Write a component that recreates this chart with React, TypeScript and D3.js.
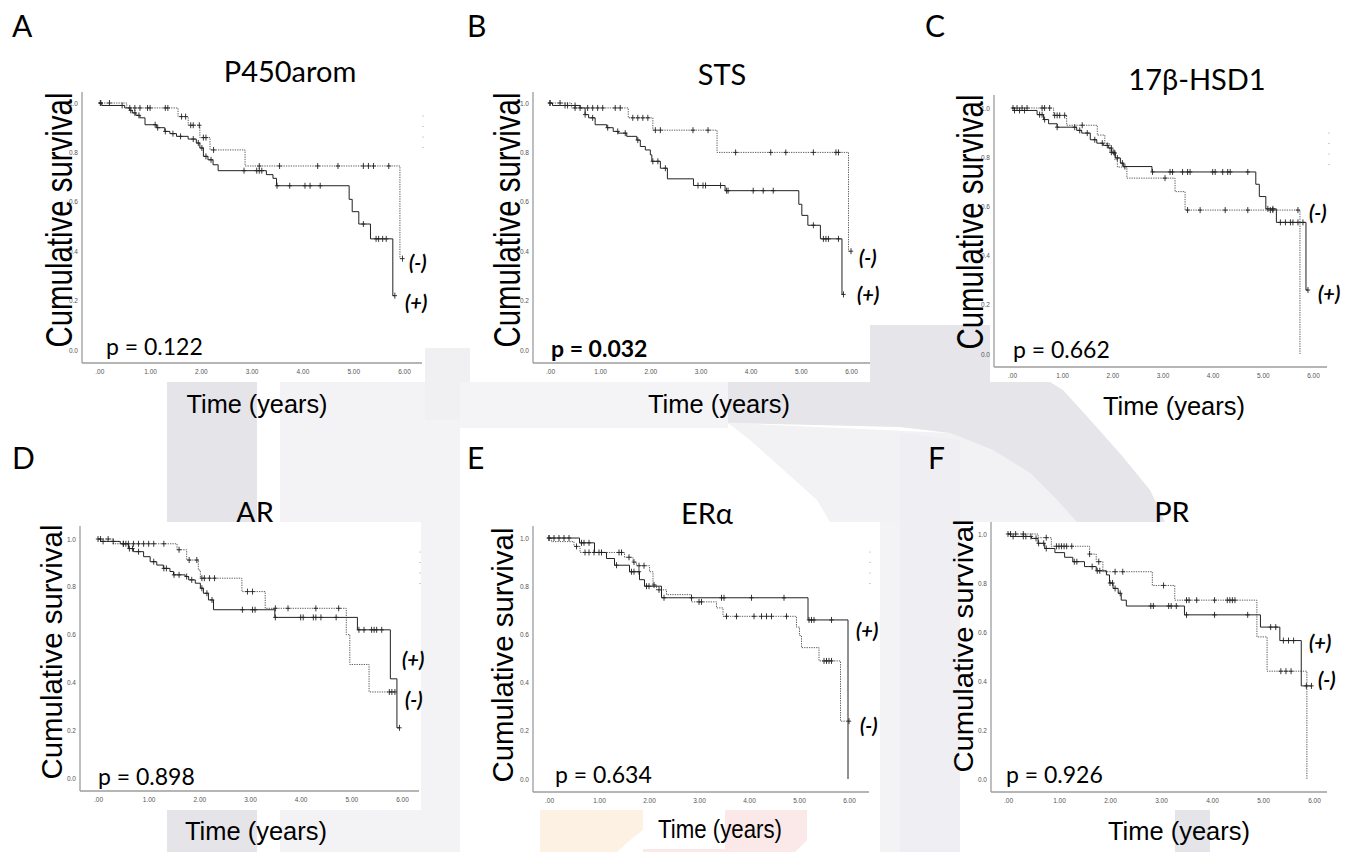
import React, { useEffect, useRef } from "react";
import * as d3 from "d3";

const W = 1358;
const H = 852;

// panel texts
const panelLetters = ["A", "B", "C", "D", "E", "F"];
const panelTitles = ["P450arom", "STS", "17β-HSD1", "AR", "ERα", "PR"];
const titleClipped = [false, false, false, true, false, true];
const pValues = ["p = 0.122", "p = 0.032", "p = 0.662", "p = 0.898", "p = 0.634", "p = 0.926"];
const pBold = [false, true, false, false, false, false];
const yTicks = [0, 0.2, 0.4, 0.6, 0.8, 1.0];
const xTicks = [0, 1, 2, 3, 4, 5, 6];

// Kaplan-Meier curves: [time, survival after the drop], end time, censor times
// (+) = solid line, (-) = dotted line
const aPosSteps = [[0.05, 0.99], [0.5, 0.98], [0.6, 0.97], [0.65, 0.96], [0.72, 0.95], [0.8, 0.94], [0.9, 0.912], [1.13, 0.9], [1.29, 0.885], [1.39, 0.876], [1.52, 0.865], [1.75, 0.854], [1.91, 0.838], [1.98, 0.818], [2.05, 0.784], [2.14, 0.77], [2.24, 0.75], [2.34, 0.726], [3.29, 0.71], [3.42, 0.695], [3.49, 0.665], [4.92, 0.61], [4.98, 0.56], [5.11, 0.51], [5.34, 0.45], [5.78, 0.22]];
const aPosEnd = 5.82;
const aPosCensor = [0.02, 0.45, 0.62, 0.7, 0.78, 1.1, 1.15, 1.3, 1.45, 1.6, 1.85, 1.95, 2.02, 2.1, 2.2, 2.85, 3.1, 3.15, 3.2, 3.5, 3.75, 4.05, 4.15, 4.35, 5.2, 5.45, 5.5, 5.58, 5.65, 5.82];
const aNegSteps = [[0.54, 0.98], [1.55, 0.945], [1.75, 0.91], [1.98, 0.86], [2.18, 0.81], [2.87, 0.745], [5.92, 0.37]];
const aNegEnd = 5.97;
const aNegCensor = [0.03, 0.2, 0.6, 0.7, 0.8, 0.95, 1.0, 1.3, 1.35, 1.62, 1.7, 1.8, 1.85, 1.97, 2.05, 2.1, 2.25, 3.15, 3.55, 4.3, 4.7, 5.2, 5.3, 5.4, 5.7, 5.97];

const bPosSteps = [[0.05, 0.99], [0.6, 0.98], [0.7, 0.953], [0.77, 0.94], [0.9, 0.912], [1.13, 0.9], [1.26, 0.885], [1.36, 0.878], [1.53, 0.865], [1.73, 0.85], [1.8, 0.824], [1.9, 0.81], [2.0, 0.79], [2.03, 0.764], [2.2, 0.736], [2.34, 0.693], [2.86, 0.666], [3.49, 0.645], [4.96, 0.59], [5.02, 0.545], [5.14, 0.505], [5.39, 0.45], [5.82, 0.225]];
const bPosEnd = 5.85;
const bPosCensor = [0.0, 0.3, 0.35, 0.5, 0.7, 0.85, 1.15, 1.35, 1.5, 1.75, 2.05, 2.15, 2.3, 2.95, 3.05, 3.1, 3.4, 3.52, 3.55, 4.05, 4.25, 4.45, 5.25, 5.45, 5.5, 5.55, 5.75, 5.85];
const bNegSteps = [[0.43, 0.98], [1.56, 0.94], [2.05, 0.89], [3.33, 0.8], [5.95, 0.4]];
const bNegEnd = 6.0;
const bNegCensor = [0.0, 0.2, 0.5, 0.6, 0.75, 0.85, 0.95, 1.05, 1.3, 1.4, 1.65, 1.75, 1.85, 1.95, 2.1, 2.2, 2.85, 3.15, 3.7, 4.4, 4.7, 5.25, 5.7, 5.75, 6.0];

const cPosSteps = [[0.05, 0.99], [0.5, 0.973], [0.63, 0.953], [0.73, 0.936], [0.9, 0.922], [1.29, 0.909], [1.39, 0.898], [1.56, 0.871], [1.69, 0.857], [1.82, 0.848], [1.92, 0.837], [1.99, 0.817], [2.06, 0.797], [2.16, 0.776], [2.22, 0.762], [2.79, 0.74], [4.86, 0.69], [4.93, 0.64], [5.06, 0.59], [5.27, 0.535], [5.86, 0.26]];
const cPosEnd = 5.9;
const cPosCensor = [0.05, 0.15, 0.25, 0.55, 0.6, 0.65, 0.9, 1.25, 1.35, 1.5, 1.65, 1.8, 1.9, 1.98, 2.05, 2.1, 2.2, 2.25, 2.8, 3.15, 3.2, 3.4, 3.5, 3.55, 4.0, 4.05, 4.2, 4.3, 4.35, 4.7, 5.1, 5.2, 5.35, 5.45, 5.55, 5.6, 5.7, 5.8, 5.9];
const cNegSteps = [[0.83, 0.97], [1.09, 0.93], [1.7, 0.89], [1.85, 0.855], [1.95, 0.82], [2.05, 0.79], [2.1, 0.76], [2.29, 0.715], [3.25, 0.66], [3.45, 0.585], [5.74, 0]];
const cNegEnd = 5.74;
const cNegCensor = [0.02, 0.1, 0.2, 0.3, 0.6, 0.65, 0.75, 0.85, 0.9, 0.95, 1.05, 1.4, 1.98, 2.03, 3.05, 3.5, 3.75, 4.25, 4.7, 5.15, 5.2, 5.7];

const dPosSteps = [[0.05, 0.99], [0.44, 0.98], [0.6, 0.96], [0.7, 0.947], [0.9, 0.926], [1.03, 0.905], [1.16, 0.891], [1.29, 0.877], [1.42, 0.864], [1.49, 0.85], [1.72, 0.843], [1.79, 0.829], [1.92, 0.815], [2.02, 0.794], [2.08, 0.773], [2.18, 0.745], [2.28, 0.704], [3.49, 0.672], [5.12, 0.62], [5.77, 0.415], [5.9, 0.21]];
const dPosEnd = 5.95;
const dPosCensor = [0.0, 0.1, 0.3, 0.5, 0.55, 0.62, 0.68, 0.8, 1.1, 1.3, 1.35, 1.5, 1.6, 1.75, 1.85, 2.05, 2.15, 2.25, 2.85, 3.05, 3.1, 3.5, 4.0, 4.05, 4.25, 4.3, 4.4, 4.7, 5.15, 5.25, 5.4, 5.45, 5.5, 5.6, 5.95];
const dNegSteps = [[0.3, 0.98], [1.56, 0.955], [1.75, 0.912], [1.98, 0.87], [2.02, 0.836], [2.84, 0.78], [3.3, 0.71], [4.9, 0.6], [4.97, 0.475], [5.35, 0.36]];
const dNegEnd = 5.86;
const dNegCensor = [0.05, 0.2, 0.5, 0.6, 0.7, 0.8, 0.9, 1.0, 1.1, 1.3, 1.6, 1.8, 1.95, 2.05, 2.1, 2.2, 2.3, 2.95, 3.05, 3.5, 3.75, 4.3, 4.75, 5.75, 5.8, 5.86];

const ePosSteps = [[0.61, 0.98], [0.91, 0.94], [1.15, 0.915], [1.31, 0.887], [1.61, 0.86], [1.81, 0.827], [1.91, 0.8], [2.25, 0.752], [5.18, 0.66], [5.98, 0]];
const ePosEnd = 5.98;
const ePosCensor = [0.0, 0.1, 0.2, 0.3, 0.4, 0.65, 0.7, 0.8, 1.35, 1.65, 1.7, 1.8, 1.95, 2.0, 2.3, 2.85, 3.45, 3.5, 4.05, 4.7, 5.2, 5.25, 5.3, 5.65];
const eNegSteps = [[0.05, 0.985], [0.5, 0.965], [0.62, 0.94], [1.51, 0.92], [1.68, 0.9], [1.75, 0.885], [2.01, 0.86], [2.08, 0.805], [2.15, 0.785], [2.35, 0.765], [2.85, 0.735], [3.35, 0.71], [3.48, 0.675], [4.95, 0.63], [5.01, 0.595], [5.05, 0.545], [5.4, 0.49], [5.83, 0.24]];
const eNegEnd = 6.0;
const eNegCensor = [0.0, 0.55, 0.72, 0.8, 0.9, 1.0, 1.05, 1.4, 1.45, 1.6, 1.7, 1.8, 1.9, 2.1, 2.2, 3.0, 3.05, 3.55, 3.75, 4.1, 4.25, 4.35, 4.45, 4.75, 5.5, 5.55, 5.6, 5.65, 6.0];

const fPosSteps = [[0.05, 0.99], [0.46, 0.982], [0.59, 0.962], [0.72, 0.941], [0.92, 0.924], [1.11, 0.905], [1.27, 0.887], [1.5, 0.867], [1.73, 0.85], [1.93, 0.833], [1.99, 0.8], [2.06, 0.778], [2.16, 0.758], [2.22, 0.73], [2.32, 0.706], [3.46, 0.67], [4.95, 0.62], [5.33, 0.565], [5.75, 0.38]];
const fPosEnd = 5.95;
const fPosCensor = [0.0, 0.1, 0.3, 0.35, 0.45, 0.55, 0.6, 0.7, 0.75, 1.3, 1.35, 1.65, 1.75, 1.8, 2.0, 2.05, 2.1, 2.2, 2.8, 2.85, 3.15, 3.2, 3.3, 3.5, 4.05, 4.7, 5.15, 5.25, 5.4, 5.5, 5.6, 5.85, 5.95];
const fNegSteps = [[0.59, 0.985], [0.85, 0.95], [1.6, 0.918], [1.73, 0.887], [1.86, 0.846], [2.83, 0.79], [3.27, 0.73], [4.88, 0.58], [5.08, 0.44], [5.86, 0]];
const fNegEnd = 5.86;
const fNegCensor = [0.05, 0.15, 0.3, 0.75, 0.95, 1.0, 1.05, 1.1, 1.15, 1.25, 1.6, 1.78, 2.1, 2.25, 3.05, 3.5, 3.55, 3.7, 4.05, 4.3, 4.35, 4.4, 4.45, 5.35, 5.45, 5.55];

const posCurves = [
  [aPosSteps, aPosEnd, aPosCensor], [bPosSteps, bPosEnd, bPosCensor], [cPosSteps, cPosEnd, cPosCensor],
  [dPosSteps, dPosEnd, dPosCensor], [ePosSteps, ePosEnd, ePosCensor], [fPosSteps, fPosEnd, fPosCensor],
];
const negCurves = [
  [aNegSteps, aNegEnd, aNegCensor], [bNegSteps, bNegEnd, bNegCensor], [cNegSteps, cNegEnd, cNegCensor],
  [dNegSteps, dNegEnd, dNegCensor], [eNegSteps, eNegEnd, eNegCensor], [fNegSteps, fNegEnd, fNegCensor],
];

// where each panel sits on the page
const layouts = [
  { x0: 99.3, x6: 404, y1: 103, y0: 350, ax: 82, atop: 92, abot: 363, aright: 422, letter: [12, 37], title: [290, 82], p: [106, 355], ylab: [72, 220, 37, 255], xlab: [257, 413, 141], plus: [405, 310], minus: [409, 270], box: [40, 88, 425, 382], dots: [423, 116] },
  { x0: 550, x6: 851, y1: 103, y0: 350, ax: 533, atop: 92, abot: 363, aright: 870, letter: [467, 37], title: [722, 85], p: [551, 357], ylab: [520, 220, 37, 255], xlab: [719, 413, 142], plus: [857, 302], minus: [859, 265], box: [485, 88, 870, 382], dots: null },
  { x0: 1012, x6: 1313, y1: 108, y0: 354, ax: 994, atop: 95, abot: 367, aright: 1327, letter: [925, 37], title: [1197, 90], p: [1013, 358], ylab: [983, 222, 37, 255], xlab: [1174, 415, 142], plus: [1318, 301], minus: [1309, 220], box: [990, 88, 1340, 382], dots: [1329, 133] },
  { x0: 98, x6: 402, y1: 539, y0: 778, ax: 80, atop: 526, abot: 791, aright: 419, letter: [12, 469], title: [255, 523], p: [98, 785], ylab: [62, 652, 30, 255], xlab: [256, 840, 142], plus: [402, 667], minus: [405, 707], box: [40, 522, 421, 810], dots: [420, 552] },
  { x0: 549, x6: 849, y1: 538, y0: 779, ax: 533, atop: 526, abot: 792, aright: 869, letter: [467, 469], title: [707, 524], p: [555, 783], ylab: [513, 655, 30, 255], xlab: [720, 838, 124], plus: [856, 638], minus: [860, 733], box: [490, 522, 880, 810], dots: [870, 552] },
  { x0: 1008, x6: 1314, y1: 534, y0: 779, ax: 991, atop: 522, abot: 792, aright: 1327, letter: [928, 469], title: [1172, 523], p: [1006, 783], ylab: [973, 646, 28, 253], xlab: [1179, 840, 142], plus: [1309, 650], minus: [1318, 687], box: [973, 522, 1340, 810], dots: null },
];

// faint background watermark behind the figure
const watermark = [
  { fill: "#e4e4e9", pts: [[167, 382], [257, 382], [257, 852], [167, 852]] },
  { fill: "#f3f3f6", pts: [[280, 382], [460, 382], [460, 852], [280, 852]] },
  { fill: "#f0f0f3", pts: [[425, 348], [470, 348], [470, 420], [425, 420]] },
  { fill: "#f4f4f7", pts: [[460, 382], [728, 382], [728, 428], [460, 428]] },
  { fill: "#f2f2f5", pts: [[728, 423], [950, 433], [993, 450], [1030, 473], [1057, 500], [1077, 522], [830, 522], [817, 500], [750, 440]] },
  { fill: "#e5e5ea", pts: [[870, 325], [990, 325], [990, 382], [1050, 382], [1063, 390], [1093, 423], [1123, 457], [1150, 490], [1165, 522], [1077, 522], [1057, 500], [1030, 473], [993, 450], [950, 433], [900, 427], [728, 423], [728, 382], [870, 382]] },
  { fill: "#efeff3", pts: [[900, 433], [960, 440], [960, 852], [900, 852]] },
  { fill: "#f3f3f5", pts: [[880, 522], [900, 522], [900, 852], [880, 852]] },
  { fill: "#fdf1e4", pts: [[540, 810], [643, 810], [643, 830], [630, 840], [617, 852], [540, 852]] },
  { fill: "#fbe8e8", pts: [[725, 810], [807, 810], [807, 840], [795, 852], [643, 852], [643, 849], [725, 849]] },
  { fill: "#e4e4e9", pts: [[1175, 810], [1210, 810], [1210, 852], [1175, 852]] },
];

function survivalAt(steps: number[][], t: number) {
  let s = 1;
  steps.forEach(st => { if (st[0] <= t) s = st[1]; });
  return s;
}

export default function App() {
  const ref = useRef<SVGSVGElement>(null);

  useEffect(() => {
    const svg = d3.select(ref.current);
    svg.selectAll("*").remove();
    svg.append("rect").attr("width", W).attr("height", H).attr("fill", "#fff");

    const poly = d3.line();
    const wm = svg.append("g");
    watermark.forEach(w => {
      wm.append("path").attr("d", poly(w.pts as [number, number][]) + "Z").attr("fill", w.fill);
    });

    layouts.forEach((L, i) => {
      const g = svg.append("g");

      const addTitle = () =>
        g.append("text").attr("x", L.title[0]).attr("y", L.title[1])
          .attr("text-anchor", "middle").attr("font-family", "Lato").attr("font-size", 29)
          .attr("fill", "#000").text(panelTitles[i]);

      // some titles sit under the white plot box in the original and get cut
      if (titleClipped[i]) addTitle();

      g.append("rect").attr("x", L.box[0]).attr("y", L.box[1])
        .attr("width", L.box[2] - L.box[0]).attr("height", L.box[3] - L.box[1]).attr("fill", "#fff");

      if (!titleClipped[i]) addTitle();

      g.append("text").attr("x", L.letter[0]).attr("y", L.letter[1])
        .attr("font-family", "Lato").attr("font-size", 30).attr("fill", "#000").text(panelLetters[i]);

      const x = d3.scaleLinear().domain([0, 6]).range([L.x0, L.x6]);
      const y = d3.scaleLinear().domain([0, 1]).range([L.y0, L.y1]);

      // axis lines
      g.append("line").attr("x1", L.ax).attr("x2", L.ax).attr("y1", L.atop).attr("y2", L.abot)
        .attr("stroke", "#9c9c9c").attr("stroke-width", 1.3);
      g.append("line").attr("x1", L.ax).attr("x2", L.aright).attr("y1", L.abot).attr("y2", L.abot)
        .attr("stroke", "#9c9c9c").attr("stroke-width", 1.3);

      const yAxis = d3.axisLeft(y).tickValues(yTicks).tickSize(0).tickPadding(4).tickFormat(d3.format(".1f"));
      g.append("g").attr("transform", `translate(${L.ax},0)`).call(yAxis)
        .attr("font-size", 6.5).attr("font-family", "Liberation Sans")
        .call(a => a.select(".domain").remove())
        .selectAll("text").attr("fill", "#555");

      const xAxis = d3.axisBottom(x).tickValues(xTicks).tickSize(0).tickPadding(6.5)
        .tickFormat(d => d3.format(".2f")(d as number).replace(/^0\./, "."));
      g.append("g").attr("transform", `translate(0,${L.abot})`).call(xAxis)
        .attr("font-size", 6.5).attr("font-family", "Liberation Sans")
        .call(a => a.select(".domain").remove())
        .selectAll("text").attr("fill", "#555");

      // survival curves
      const stepLine = d3.line<number[]>().x(d => x(d[0])).y(d => y(d[1])).curve(d3.curveStepAfter);
      const drawCurve = (c: any[], dotted: boolean) => {
        const steps = c[0] as number[][];
        const end = c[1] as number;
        const cens = c[2] as number[];
        const pts = [[0, 1], ...steps, [end, steps[steps.length - 1][1]]];
        g.append("path").attr("d", stepLine(pts)).attr("fill", "none")
          .attr("stroke", dotted ? "#4a4a4a" : "#222")
          .attr("stroke-width", dotted ? 0.9 : 1)
          .attr("stroke-dasharray", dotted ? "1.3 1.1" : null);
        cens.forEach(t => {
          const cx = x(t), cy = y(survivalAt(steps, t));
          g.append("path").attr("d", `M${cx},${cy - 3}V${cy + 3}M${cx - 2.2},${cy}H${cx + 2.2}`)
            .attr("stroke", "#222").attr("stroke-width", 0.9).attr("fill", "none");
        });
      };
      drawCurve(negCurves[i], true);
      drawCurve(posCurves[i], false);

      // little leftover legend dots
      if (L.dots) {
        [0, 1, 2, 3].forEach(k => {
          g.append("circle").attr("cx", L.dots![0]).attr("cy", L.dots![1] + k * 10.5)
            .attr("r", 0.6).attr("fill", "#999");
        });
      }

      // axis titles
      g.append("text")
        .attr("transform", `translate(${L.ylab[0]},${L.ylab[1]}) rotate(-90)`)
        .attr("text-anchor", "middle").attr("font-family", "Liberation Sans")
        .attr("font-size", L.ylab[2]).attr("textLength", L.ylab[3]).attr("lengthAdjust", "spacingAndGlyphs")
        .attr("fill", "#000").text("Cumulative survival");
      g.append("text").attr("x", L.xlab[0]).attr("y", L.xlab[1])
        .attr("text-anchor", "middle").attr("font-family", "Liberation Sans")
        .attr("font-size", 26).attr("textLength", L.xlab[2]).attr("lengthAdjust", "spacingAndGlyphs")
        .attr("fill", "#000").text("Time (years)");

      g.append("text").attr("x", L.p[0]).attr("y", L.p[1])
        .attr("font-family", "Lato").attr("font-size", 23)
        .attr("font-weight", pBold[i] ? "bold" : "normal")
        .attr("fill", "#000").text(pValues[i]);

      g.append("text").attr("x", L.plus[0]).attr("y", L.plus[1])
        .attr("font-family", "Lato").attr("font-size", 20).attr("font-weight", "bold")
        .attr("font-style", "italic").attr("fill", "#000").text("(+)");
      g.append("text").attr("x", L.minus[0]).attr("y", L.minus[1])
        .attr("font-family", "Lato").attr("font-size", 20).attr("font-weight", "bold")
        .attr("font-style", "italic").attr("fill", "#000").text("(-)");
    });
  }, []);

  return (
    <svg ref={ref} width={W} height={H}
      style={{ position: "absolute", left: 0, top: 0, display: "block" }} />
  );
}
